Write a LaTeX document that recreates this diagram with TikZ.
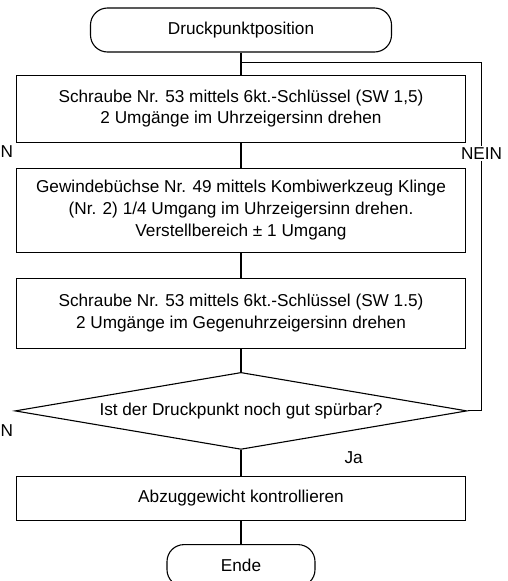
\documentclass[tikz,border=0pt]{standalone}
\usepackage{fontspec}
\setmainfont{Liberation Sans}
\usetikzlibrary{positioning}
\usetikzlibrary{shapes.geometric}

\begin{document}
\begin{tikzpicture}[x=1pt,y=1pt,line width=1.1pt,
  every node/.style={font=\fontsize{17.2}{21.7}\selectfont},
  term/.style={draw,rounded corners=17pt,minimum height=44pt,inner sep=0pt},
  step box/.style={draw,minimum width=449pt,align=center,inner sep=0pt},
  question/.style={draw,diamond,aspect=5.87,minimum width=452pt,minimum height=77pt,inner sep=0pt}]

  \useasboundingbox (0,0) rectangle (507,-581);

  \node[term,minimum width=301pt] (start) at (241,-30) {Druckpunktposition};
  \node[step box,minimum height=67pt] (1) [below=22pt of start] {Schraube Nr. 53 mittels 6kt.-Schlüssel (SW 1,5)\\2 Umgänge im Uhrzeigersinn drehen};
  \node[step box,minimum height=84pt] (2) [below=25pt of 1] {Gewindebüchse Nr. 49 mittels Kombiwerkzeug Klinge\\(Nr. 2) 1/4 Umgang im Uhrzeigersinn drehen.\\Verstellbereich ± 1 Umgang};
  \node[step box,minimum height=70pt] (3) [below=25pt of 2] {Schraube Nr. 53 mittels 6kt.-Schlüssel (SW 1.5)\\2 Umgänge im Gegenuhrzeigersinn drehen};
  \node[question] (q) [below=23pt of 3] {Ist der Druckpunkt noch gut spürbar?};
  \node[step box,minimum height=44pt] (4) [below=26pt of q] {Abzuggewicht kontrollieren};
  \node[term,minimum width=148pt,minimum height=42pt] (ende) [below=23pt of 4] {Ende};

  \coordinate[below=10pt of start] (j);

  \path[draw]
    (start) edge (1)
    (1) edge (2)
    (2) edge (3)
    (3) edge (q)
    (q) edge (4)
    (4) edge (ende);

  \draw (q.east) -- ++(14,0) |- node[pos=0.37,fill=white,inner sep=1.5pt] (nein) {NEIN} (j);

  \node[inner sep=0pt] (ja) [below right=1pt and 103pt of q.south] {Ja};

  \node[anchor=west,inner sep=0pt] (n1) at (0,-152) {N};
  \node[anchor=west,inner sep=0pt] (n2) at (0,-431) {N};
\end{tikzpicture}
\end{document}
